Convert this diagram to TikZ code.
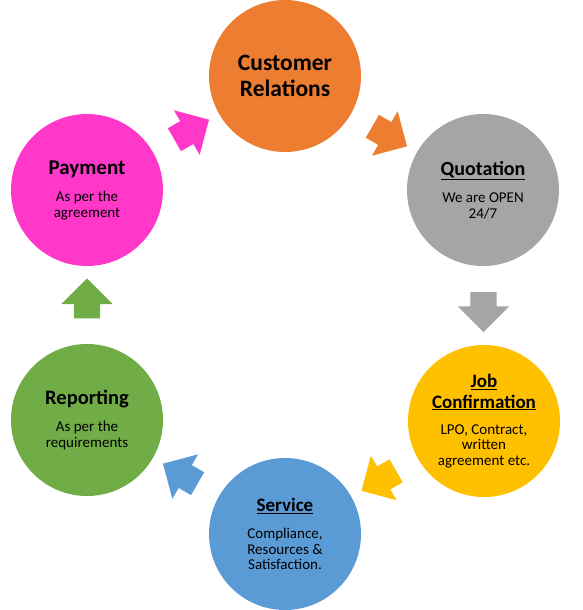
\documentclass[tikz,border=0pt]{standalone}
\usepackage{fontspec}
\setmainfont{Carlito}
\usetikzlibrary{shapes.arrows,calc}
\definecolor{crorange}{HTML}{ED7D31}
\definecolor{qgrey}{HTML}{A5A5A5}
\definecolor{jgold}{HTML}{FFC000}
\definecolor{sblue}{HTML}{5B9BD5}
\definecolor{rgreen}{HTML}{70AD47}
\definecolor{pmagenta}{HTML}{FF38CA}
\newcommand{\stagetitle}[2][20]{{\fontsize{#1}{20}\selectfont\bfseries #2}}
\begin{document}
\begin{tikzpicture}[x=1pt,y=-1pt,
  stage/.style={circle,minimum size=152pt,inner sep=0pt,align=center,font=\fontsize{15}{15.5}\selectfont},
  flow/.style={single arrow,inner xsep=0pt,inner ysep=13pt,minimum height=40pt,single arrow head extend=12.5pt,single arrow head indent=0pt}]
\useasboundingbox (0,0) rectangle (583,610);
\node[stage,fill=crorange,font=\fontsize{23.5}{26}\selectfont\bfseries] (cr) at (285,76) {Customer\\Relations};
\node[stage,fill=qgrey] (quote) at (483,190) {\stagetitle{\underline{Quotation}}\\[12pt]We are OPEN\\24/7};
\node[stage,fill=jgold] (job) at (484,421) {\stagetitle[19]{\underline{Job}}\\[4.8pt]\stagetitle[19]{\underline{Confirmation}}\\[10.5pt]LPO, Contract,\\written\\agreement etc.};
\node[stage,fill=sblue] (service) at (285,534) {\stagetitle[19]{\underline{Service}}\\[11.5pt]Compliance,\\Resources \&\\Satisfaction.};
\node[stage,fill=rgreen] (report) at (87,420) {\stagetitle[20.5]{Reporting}\\[11.5pt]As per the\\requirements};
\node[stage,fill=pmagenta] (pay) at (87,190) {\stagetitle[21]{Payment}\\[12pt]As per the\\agreement};
\node[flow,fill=crorange,rotate=-30] at ($(cr)!.5!(quote)$) {};
\node[flow,fill=qgrey,rotate=-90] at ($(quote)!.5!(job)$) {};
\node[flow,fill=jgold,rotate=-150] at ($(job)!.5!(service)$) {};
\node[flow,fill=sblue,rotate=150] at ($(service)!.5!(report)$) {};
\node[flow,fill=rgreen,rotate=90] at ($(report)!.5!(pay)$) {};
\node[flow,fill=pmagenta,rotate=30] at ($(pay)!.5!(cr)$) {};
\end{tikzpicture}
\end{document}
